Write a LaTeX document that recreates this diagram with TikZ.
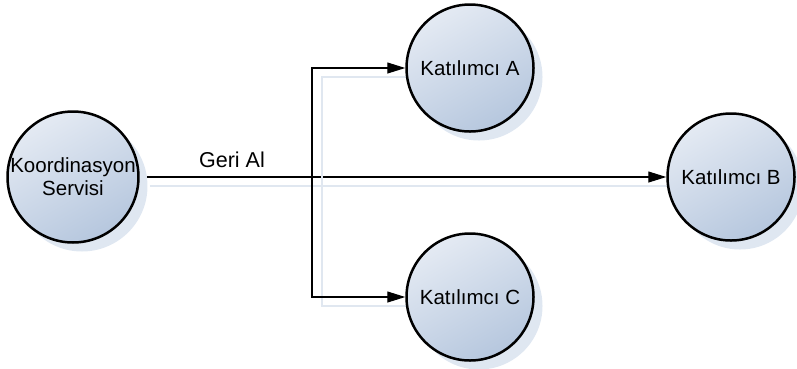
\documentclass[tikz,border=0pt]{standalone}
\usepackage{fontspec}
\setmainfont{Liberation Sans}
\usetikzlibrary{arrows.meta,shadows,backgrounds}

\definecolor{circlelight}{HTML}{E4EAF3}
\definecolor{circledark}{HTML}{B6C7DE}
\definecolor{shadowblue}{HTML}{DFE7F1}
\definecolor{lineshadow}{HTML}{E0E7F0}

\tikzset{
	participant/.style={circle, draw=black, line width=2.5pt, minimum size=127pt, inner sep=0pt,
		top color=circlelight, bottom color=circledark, shading angle=30, align=center,
		font=\fontsize{20.5}{23}\selectfont,
		drop shadow={shadow xshift=9pt, shadow yshift=-9pt, fill=shadowblue, opacity=1}},
	message/.style={line width=1.1pt, -{Triangle[length=18pt,width=11pt]},
		preaction={draw=lineshadow, line width=1.6pt, arrows=-, transform canvas={shift={(10pt,-9pt)}}}}
}

\begin{document}
\begin{tikzpicture}[x=1pt, y=-1pt]
		\useasboundingbox (0,0) rectangle (797,368);
		
		% nodes
		\node[participant] (coord) at (73,177) {Koordinasyon\\Servisi};
		\node[participant] (partA) at (470,68) {Katılımcı A};
		\node[participant] (partB) at (731,177) {Katılımcı B};
		\node[participant] (partC) at (470,297) {Katılımcı C};
		
		\coordinate (split) at (312,177);
		
		% rollback messages
		\begin{scope}[on background layer]
			\draw[message] (coord) -- (partB);
			\draw[message] (split) |- (partA);
			\draw[message] (split) |- (partC);
		\end{scope}
		
		\node[anchor=base, font=\fontsize{21.5}{24}\selectfont] (undo) at (232,167) {Geri Al};
	\end{tikzpicture}
\end{document}
